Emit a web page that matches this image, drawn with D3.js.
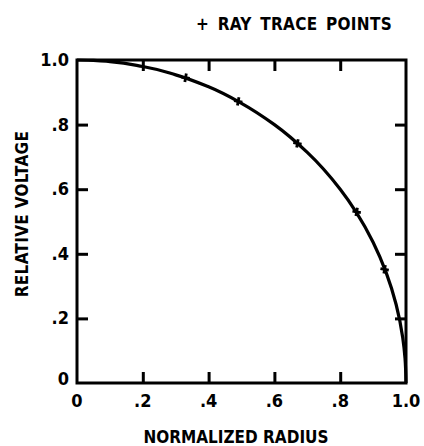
<!DOCTYPE html>
<html><head><meta charset="utf-8">
<script src="https://cdn.jsdelivr.net/npm/d3@7"></script>
<style>
html,body{margin:0;padding:0;background:#fff;}
svg text{font-family:"DejaVu Sans Condensed","DejaVu Sans",sans-serif;font-weight:bold;fill:#000;}
</style></head>
<body>
<svg id="c" width="424" height="446"></svg>
<script>
// Curve
const curveR = [0, 0.05, 0.1, 0.2, 0.3, 0.4, 0.5, 0.6, 0.7, 0.8, 0.85, 0.9, 0.94, 0.97, 0.99, 0.997, 1.0];
const curveV = [1.0, 0.999, 0.995, 0.98, 0.954, 0.917, 0.866, 0.8, 0.714, 0.6, 0.527, 0.436, 0.341, 0.243, 0.141, 0.077, 0.0];
// Ray trace points
const rayR = [0.33, 0.49, 0.67, 0.85, 0.935];
const rayV = [0.945, 0.872, 0.742, 0.53, 0.352];
// Ticks
const xTicks = [0, 0.2, 0.4, 0.6, 0.8, 1.0];
const xTickLabels = ["0", ".2", ".4", ".6", ".8", "1.0"];
const yTicks = [0, 0.2, 0.4, 0.6, 0.8, 1.0];
const yTickLabels = ["0", ".2", ".4", ".6", ".8", "1.0"];

const svg = d3.select("#c");
const L = 77, R = 406, T = 60, B = 383;
const x = d3.scaleLinear().domain([0, 1]).range([L, R]);
const y = d3.scaleLinear().domain([0, 1]).range([B, T]);
const TL = 11;
const sw = 3;

// Axes with inward ticks
const g = svg.append("g");
function styleAxis(sel){
  sel.select(".domain").remove();
  sel.selectAll(".tick line").attr("stroke","#000").attr("stroke-width",sw);
  sel.selectAll(".tick text").remove();
}
g.append("g").attr("transform",`translate(0,${B})`)
  .call(d3.axisBottom(x).tickValues(xTicks.slice(1,5)).tickSize(-TL)).call(styleAxis);
g.append("g").attr("transform",`translate(0,${T})`)
  .call(d3.axisTop(x).tickValues(xTicks.slice(1,5)).tickSize(-TL)).call(styleAxis);
g.append("g").attr("transform",`translate(${L},0)`)
  .call(d3.axisLeft(y).tickValues(yTicks.slice(1,5)).tickSize(-TL)).call(styleAxis);
g.append("g").attr("transform",`translate(${R},0)`)
  .call(d3.axisRight(y).tickValues(yTicks.slice(1,5)).tickSize(-TL)).call(styleAxis);

// Frame
svg.append("rect").attr("x",x(0)).attr("y",y(1)).attr("width",x(1)-x(0)).attr("height",y(0)-y(1))
  .attr("fill","none").attr("stroke","#000").attr("stroke-width",sw);

// Curve
const pts = curveR.map((r,i)=>[r, curveV[i]]);
svg.append("path").datum(pts)
  .attr("d", d3.line().x(d=>x(d[0])).y(d=>y(d[1])).curve(d3.curveMonotoneY))
  .attr("fill","none").attr("stroke","#000").attr("stroke-width",3.2).attr("stroke-linejoin","round");

// Ray points
const sym = d3.symbol().type(d3.symbolCross).size(40);
svg.selectAll(".rp").data(rayR.map((r,i)=>[r, rayV[i]])).enter().append("path")
  .attr("d", sym).attr("transform", d=>`translate(${x(d[0])},${y(d[1])}) rotate(10)`)
  .attr("fill","#000");

// Tick labels
svg.selectAll(".xl").data(xTicks).enter().append("text")
  .attr("x", (d)=>x(d)).attr("y", 407)
  .attr("text-anchor","middle").attr("font-size",18)
  .text((d,i)=>xTickLabels[i]);
svg.selectAll(".yl").data(yTicks).enter().append("text")
  .attr("x", 69).attr("y", d=>y(d)+ (d===0? 2 : 6))
  .attr("text-anchor","end").attr("font-size",18)
  .text((d,i)=>yTickLabels[i]);

// Titles
svg.append("text").attr("x",236).attr("y",443).attr("text-anchor","middle")
  .attr("font-size",17).text("NORMALIZED RADIUS");
svg.append("text").attr("transform","translate(28,214) rotate(-90)").attr("text-anchor","middle")
  .attr("font-size",17).attr("letter-spacing",0.3).text("RELATIVE VOLTAGE");
svg.append("text").attr("x",392).attr("y",30).attr("text-anchor","end")
  .attr("font-size",17).attr("word-spacing",3).attr("letter-spacing",0.3).text("+ RAY TRACE POINTS");
</script>
</body></html>
